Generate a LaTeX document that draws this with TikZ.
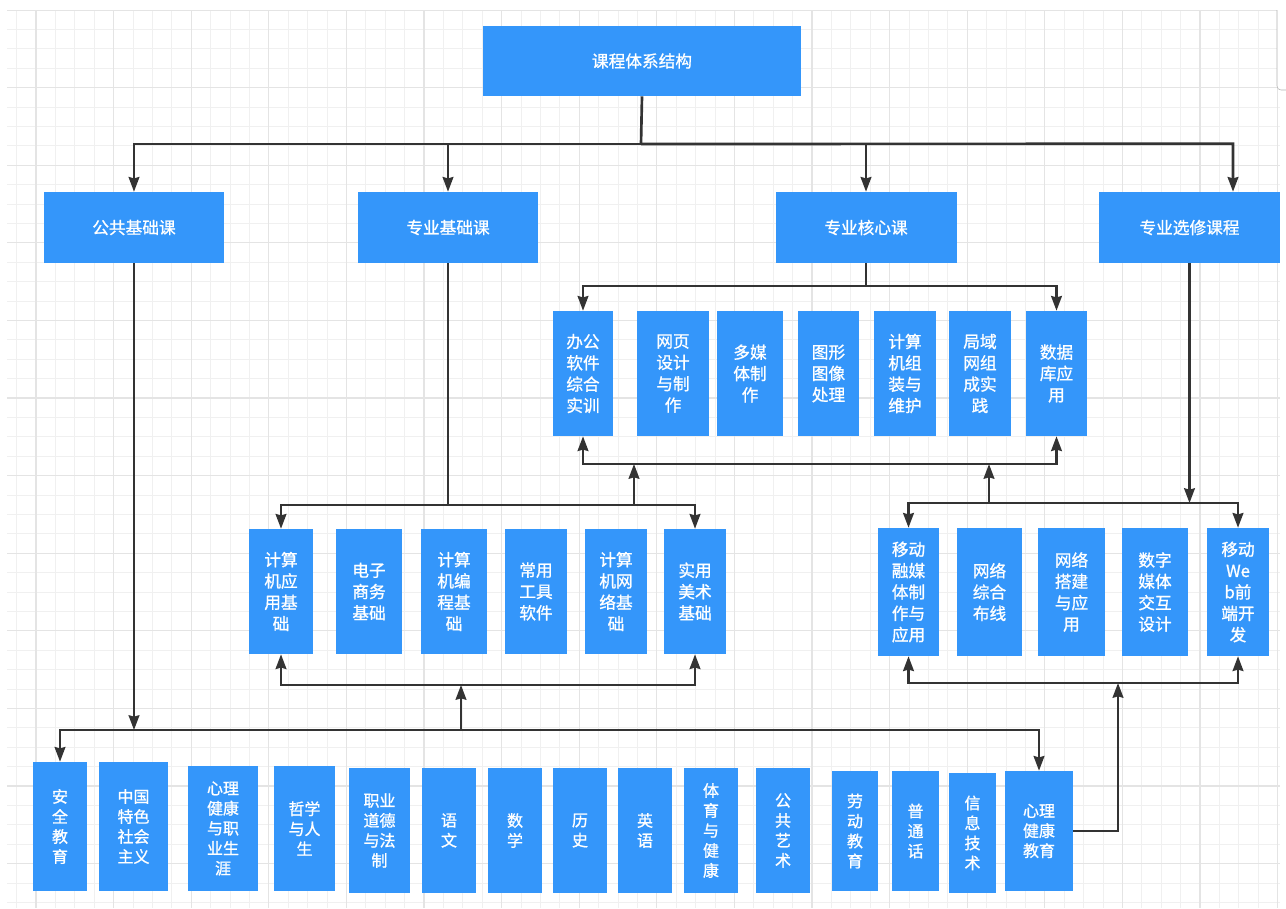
\documentclass[tikz,border=0pt]{standalone}
\usepackage{fontspec}
\setmainfont{Noto Sans CJK SC}[AutoFakeBold=1]
\usetikzlibrary{arrows.meta,calc}
\definecolor{boxblue}{RGB}{52,150,250}
\definecolor{gridminor}{RGB}{240,240,240}
\definecolor{gridmajor}{RGB}{228,228,228}

\begin{document}
\begin{tikzpicture}[x=0.75pt,y=-0.75pt,>={Stealth[length=11pt,width=8pt,inset=1pt]},
    course/.style={fill=boxblue,text=white,inner sep=0pt,align=center,font=\bfseries\fontsize{12.5}{16}\selectfont},
    small/.style={font=\bfseries\fontsize{12}{15}\selectfont},
    sz/.style 2 args={minimum width=#1*0.75pt,minimum height=#2*0.75pt},
    link/.style={draw=black!80,line width=2pt}]
    \useasboundingbox (0,0) rectangle (1286,908);
    % grid paper
    \begin{scope}
        \clip (7,10) rectangle (1280,908);
        \foreach \i in {0,...,65} \draw[gridminor,line width=0.6pt] ({16.6+19.4*\i},10) -- ++(0,898);
        \foreach \i in {0,...,46} \draw[gridminor,line width=0.6pt] (7,{10+19.4*\i}) -- ++(1273,0);
        \foreach \i in {0,...,16} \draw[gridmajor,line width=0.8pt] ({36+77.6*\i},10) -- ++(0,898);
        \foreach \i in {0,...,11} \draw[gridmajor,line width=0.8pt] (7,{10+77.6*\i}) -- ++(1273,0);
    \end{scope}
    \draw[black!30,fill=white,rounded corners=3] (1277,10) -- (1277,90) -- (1292,90) -- (1292,10);

    \node[course,sz={318}{70}] (top) at (642,61) {课程体系结构};
    \node[course,sz={180}{71}] (pub) at (134,227.5) {公共基础课};
    \node[course,sz={180}{71}] (prof) at (448,227.5) {专业基础课};
    \node[course,sz={181}{71}] (core) at (866,227.5) {专业核心课};
    \node[course,sz={181}{71}] (elec) at (1189.5,227.5) {专业选修课程};

    % core courses
    \node[course,sz={60}{125}] (c1) at (583,373.5) {办公\\软件\\综合\\实训};
    \node[course,sz={72}{125}] (c2) at (673,373.5) {网页\\设计\\与制\\作};
    \node[course,sz={66}{125}] (c3) at (750,373.5) {多媒\\体制\\作};
    \node[course,sz={61}{125}] (c4) at (828.5,373.5) {图形\\图像\\处理};
    \node[course,sz={62}{125}] (c5) at (905,373.5) {计算\\机组\\装与\\维护};
    \node[course,sz={62}{125}] (c6) at (980,373.5) {局域\\网组\\成实\\践};
    \node[course,sz={61}{125}] (c7) at (1056.5,373.5) {数据\\库应\\用};

    % professional basics
    \node[course,sz={64}{125}] (p1) at (281,591.5) {计算\\机应\\用基\\础};
    \node[course,sz={66}{125}] (p2) at (369,591.5) {电子\\商务\\基础};
    \node[course,sz={66}{125}] (p3) at (454,591.5) {计算\\机编\\程基\\础};
    \node[course,sz={62}{125}] (p4) at (536,591.5) {常用\\工具\\软件};
    \node[course,sz={62}{125}] (p5) at (616,591.5) {计算\\机网\\络基\\础};
    \node[course,sz={62}{125}] (p6) at (695,591.5) {实用\\美术\\基础};

    % electives
    \node[course,sz={61}{128}] (e1) at (908.5,592) {移动\\融媒\\体制\\作与\\应用};
    \node[course,sz={65}{128}] (e2) at (989.5,592) {网络\\综合\\布线};
    \node[course,sz={67}{128}] (e3) at (1071.5,592) {网络\\搭建\\与应\\用};
    \node[course,sz={66}{128}] (e4) at (1155,592) {数字\\媒体\\交互\\设计};
    \node[course,sz={62}{128}] (e5) at (1238,592) {移动\\We\\b前\\端开\\发};

    % public basics
    \node[course,small,sz={54}{129}] (b1) at (60,826.5) {安\\全\\教\\育};
    \node[course,small,sz={69}{129}] (b2) at (133.5,826.5) {中国\\特色\\社会\\主义};
    \node[course,small,sz={70}{125}] (b3) at (223,828.5) {心理\\健康\\与职\\业生\\涯};
    \node[course,small,sz={61}{125}] (b4) at (304.5,828.5) {哲学\\与人\\生};
    \node[course,small,sz={61}{125}] (b5) at (379.5,830.5) {职业\\道德\\与法\\制};
    \node[course,small,sz={54}{125}] (b6) at (449,830.5) {语\\文};
    \node[course,small,sz={54}{125}] (b7) at (515,830.5) {数\\学};
    \node[course,small,sz={54}{125}] (b8) at (580,830.5) {历\\史};
    \node[course,small,sz={54}{125}] (b9) at (645,830.5) {英\\语};
    \node[course,small,sz={54}{125}] (b10) at (711,830.5) {体\\育\\与\\健\\康};
    \node[course,small,sz={54}{125}] (b11) at (783,830.5) {公\\共\\艺\\术};
    \node[course,small,sz={46}{120}] (b12) at (855,831) {劳\\动\\教\\育};
    \node[course,small,sz={47}{120}] (b13) at (915.5,831) {普\\通\\话};
    \node[course,small,sz={47}{120}] (b14) at (972.5,833) {信\\息\\技\\术};
    \node[course,small,sz={68}{120}] (b15) at (1039,831) {心理\\健康\\教育};

    % top level
    \coordinate (t1) at (641,144);
    \coordinate (t2) at ($(elec.north)+(43.5,-48)$);
    \draw[link] (top.south) -- (t1);
    \draw[link,->] (t1) -| (pub);
    \draw[link,->] (t1) -| (prof);
    \draw[link,->] (t1) -| (core);
    \draw[link,->] (t1) -- (t2) -- ($(elec.north)+(43.5,0)$);

    % core group
    \coordinate (k1) at (866,286);
    \coordinate (k2) at (634,464);
    \coordinate (k3) at (989,464);
    \draw[link] (core) -- (k1);
    \draw[link,->] (k1) -| (c1);
    \draw[link,->] (k1) -| (c7);
    \draw[link,->] (k2) -| (c1);
    \draw[link,->] (k2) -| (c7);

    % professional group
    \coordinate (q1) at (448,505);
    \coordinate (q2) at (634,505);
    \coordinate (q3) at (461,685);
    \draw[link] (prof) -- (q1);
    \draw[link,->] (q1) -| (p1);
    \draw[link,->] (q1) -| (p6);
    \draw[link,->] (q2) -- (k2);
    \draw[link,->] (q3) -| (p1);
    \draw[link,->] (q3) -| (p6);

    % elective group
    \coordinate (r1) at (1189.5,503);
    \coordinate (r2) at (989,503);
    \coordinate (r3) at (1118,683);
    \draw[link,->] (elec) -- (r1);
    \draw[link,->] (r1) -| (e1);
    \draw[link,->] (r1) -| (e5);
    \draw[link,->] (r2) -- (k3);
    \draw[link,->] (r3) -| (e1);
    \draw[link,->] (r3) -| (e5);

    % public group
    \coordinate (g1) at (134,730);
    \coordinate (g2) at (461,730);
    \draw[link,->] (pub) -- (g1);
    \draw[link,->] (g1) -| (b1);
    \draw[link,->] (g1) -| (b15);
    \draw[link,->] (g2) -- (q3);
    \draw[link,->] (b15) -| (r3);
\end{tikzpicture}
\end{document}
